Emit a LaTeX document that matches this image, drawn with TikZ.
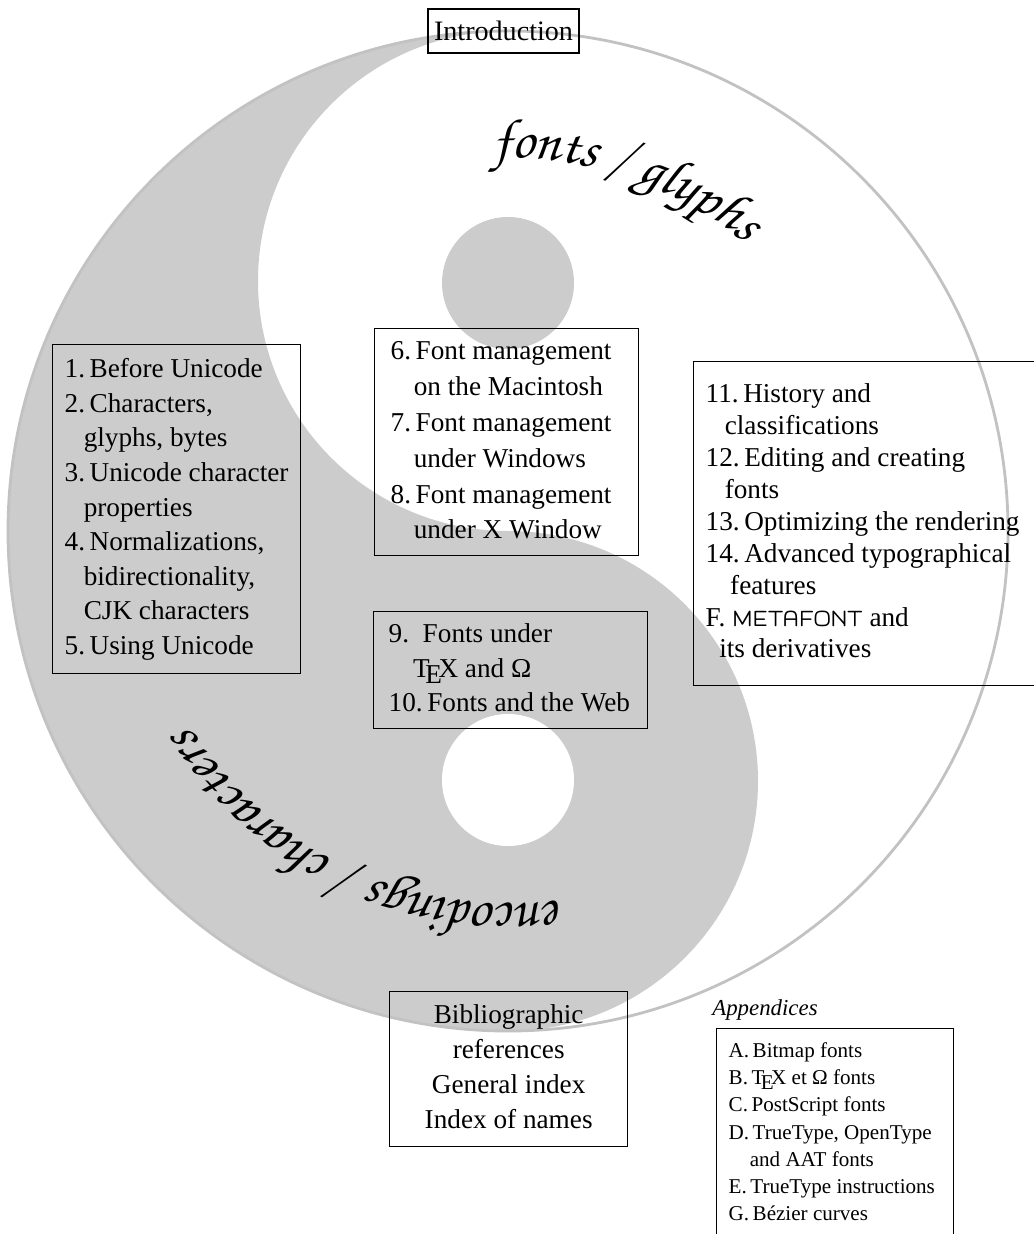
\documentclass[tikz,border=0pt]{standalone}
\usepackage[T1]{fontenc}
\usepackage{fontspec}
\setmainfont{Liberation Serif}
\usepackage{mflogo}
\usetikzlibrary{decorations.text}

\definecolor{yingray}{gray}{0.8}
\definecolor{rimgray}{gray}{0.76}

% calligraphic face for the two arcs
\newcommand{\chancery}{\fontencoding{T1}\fontfamily{pzc}\fontseries{mb}\fontshape{it}\fontsize{32}{32}\selectfont}
\newcommand{\cont}{\hspace*{0.7em}}

\tikzset{
  chapbox/.style={draw, line width=0.8pt, anchor=north west},
  arctext/.style={decorate, decoration={text along path, text align=center, text={#1}}}
}

\begin{document}
\begin{tikzpicture}[x=0.02cm, y=0.02cm]
    \useasboundingbox (0,0) rectangle (1034,-1234);
    \clip (0,0) rectangle (1034,-1234);

    % Yin-yang background
    \coordinate (yy) at (508,-531);
    \fill[yingray] (508,-31) arc[start angle=90, end angle=270, radius=500]
        arc[start angle=-90, end angle=90, radius=250]
        arc[start angle=270, end angle=90, radius=250] -- cycle;
    \draw[rimgray, line width=1.6pt] (yy) circle[radius=500];
    \fill[yingray] (508,-283) circle[radius=66];
    \fill[white] (508,-780) circle[radius=66];

    % Text on the arcs
    \path[arctext={|\chancery|fonts / glyphs}]
        ([shift={(111.4:373)}]yy) arc[start angle=111.4, end angle=31.4, radius=373];
    \path[arctext={|\chancery|encodings / characters}]
        ([shift={(-64.9:373)}]yy) arc[start angle=-64.9, end angle=-164.9, radius=373];

    % Introduction
    \node[draw, line width=0.8pt, minimum width=3.02cm, minimum height=0.88cm, inner sep=0pt,
          font=\fontsize{16}{19}\selectfont] (intro) at (503.5,-31) {Introduction};

    % Chapters
    \node[chapbox, minimum width=4.96cm, minimum height=6.58cm, inner xsep=0.24cm,
          font=\fontsize{15.5}{19.7}\selectfont] (encchaps) at (52,-344) {\makebox[4.48cm][l]{%
        \begin{tabular}{@{}l@{}}
        1.\,Before Unicode\\
        2.\,Characters,\\
        \cont glyphs, bytes\\
        3.\,Unicode character\\
        \cont properties\\
        4.\,Normalizations,\\
        \cont bidirectionality,\\
        \cont CJK characters\\
        5.\,Using Unicode
        \end{tabular}}};

    \node[chapbox, minimum width=5.28cm, minimum height=4.40cm, inner xsep=0.32cm,
          font=\fontsize{15.5}{20.4}\selectfont] (oschaps) at (374,-328) {\makebox[4.64cm][l]{%
        \begin{tabular}{@{}l@{}}
        6.\,Font management\\
        \hspace*{0.85em}on the Macintosh\\
        7.\,Font management\\
        \hspace*{0.85em}under Windows\\
        8.\,Font management\\
        \hspace*{0.85em}under X Window
        \end{tabular}}};

    \node[chapbox, minimum width=5.48cm, minimum height=2.34cm, inner xsep=0.30cm,
          font=\fontsize{15.5}{19.8}\selectfont] (texchaps) at (373,-611) {\makebox[4.88cm][l]{%
        \begin{tabular}{@{}l@{}}
        9.\ \ Fonts under\\
        \hspace*{0.9em}\TeX{} and Ω\\
        10.\,Fonts and the Web
        \end{tabular}}};

    \node[chapbox, minimum width=7.60cm, minimum height=6.48cm, inner xsep=0.24cm,
          font=\fontsize{15.5}{18.2}\selectfont] (fontchaps) at (693,-361) {\makebox[7.12cm][l]{%
        \begin{tabular}{@{}l@{}}
        11.\,History and\\
        \cont classifications\\
        12.\,Editing and creating\\
        \cont fonts\\
        13.\,Optimizing the rendering\\
        14.\,Advanced typographical\\
        \hspace*{0.9em}features\\
        F.\ \MF{} and\\
        \hspace*{0.5em}its derivatives
        \end{tabular}}};

    % Back matter
    \node[chapbox, minimum width=4.76cm, minimum height=3.10cm, inner xsep=0.15cm,
          font=\fontsize{15.5}{19.8}\selectfont] (backmatter) at (389,-991) {\makebox[4.46cm][c]{%
        \begin{tabular}{@{}c@{}}
        Bibliographic\\
        references\\
        General index\\
        Index of names
        \end{tabular}}};

    % Appendices
    \node[anchor=base west, inner sep=0pt, font=\fontsize{13}{15}\selectfont\itshape] (applabel) at (712,-1015) {Appendices};
    \node[chapbox, minimum width=4.74cm, minimum height=4.20cm, inner xsep=0.24cm,
          font=\fontsize{12}{15.5}\selectfont] (appchaps) at (716,-1028) {\makebox[4.26cm][l]{%
        \begin{tabular}{@{}l@{}}
        A.\,Bitmap fonts\\
        B.\,\TeX{} et Ω fonts\\
        C.\,PostScript fonts\\
        D.\,TrueType, OpenType\\
        \hspace*{1em}and AAT fonts\\
        E.\,TrueType instructions\\
        G.\,Bézier curves
        \end{tabular}}};

\end{tikzpicture}
\end{document}
